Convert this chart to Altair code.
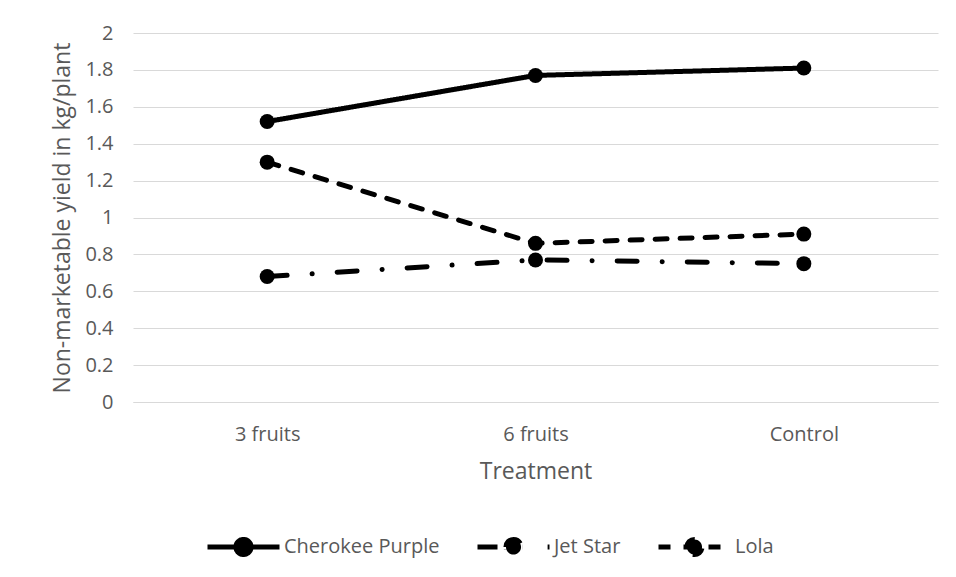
import altair as alt
import pandas as pd

treatments = ["3 fruits", "6 fruits", "Control"]
series = ["Cherokee Purple", "Jet Star", "Lola"]
cherokee = [1.52, 1.77, 1.81]
jetstar = [0.68, 0.77, 0.75]
lola = [1.30, 0.86, 0.91]

rows = []
for name, vals in zip(series, [cherokee, jetstar, lola]):
    for t, v in zip(treatments, vals):
        rows.append({"Treatment": t, "Variety": name, "Yield": v})
df = pd.DataFrame(rows)

FONT = "Open Sans"
GREY = "#595959"

x = alt.X("Treatment:N", sort=treatments,
          scale=alt.Scale(type="point", padding=0.5),
          axis=alt.Axis(title="Treatment", labelAngle=0, ticks=False,
                        labelPadding=22, titlePadding=16, grid=False,
                        domainColor="#d9d9d9", domainWidth=1))
y = alt.Y("Yield:Q", scale=alt.Scale(domain=[0, 2], nice=False),
          axis=alt.Axis(title="Non-marketable yield in kg/plant",
                        values=[0, 0.2, 0.4, 0.6, 0.8, 1, 1.2, 1.4, 1.6, 1.8, 2],
                        format=".1~f",
                        ticks=False, domain=False, labelPadding=20,
                        titlePadding=10, gridColor="#d9d9d9"))

legend_path = ("M-1,0H1M-0.21,0A0.21,0.21,0,1,1,0.21,0"
               "A0.21,0.21,0,1,1,-0.21,0Z")

dash = alt.StrokeDash(
    "Variety:N", sort=series,
    scale=alt.Scale(domain=series, range=[[1, 0], [20, 25, 0.1, 25], [12, 13]]),
    legend=alt.Legend(title=None, orient="none", direction="horizontal",
                      legendX=72, legendY=475,
                      symbolType=legend_path, symbolSize=5184,
                      symbolStrokeColor="black", symbolFillColor="black",
                      symbolStrokeWidth=5, columnPadding=27, labelOffset=2))

lines = alt.Chart(df).mark_line(color="black", strokeWidth=5, strokeCap="round").encode(
    x=x, y=y, strokeDash=dash)
points = alt.Chart(df).mark_point(filled=True, color="black", size=225, opacity=1,
                                  shape="circle").encode(x=x, y=y, detail="Variety:N")

chart = alt.layer(lines, points).properties(
    width=805, height=369,
    autosize=alt.AutoSizeParams(type="none"),
    padding={"left": 125, "top": 25, "right": 10, "bottom": 166},
).configure_view(stroke=None).configure_axis(
    labelFont=FONT, titleFont=FONT, labelColor=GREY, titleColor=GREY,
    labelFontSize=20, titleFontSize=23, titleFontWeight="normal"
).configure_legend(labelFont=FONT, labelColor=GREY, labelFontSize=20)

chart.save("out.html", embed_options={"renderer": "svg", "actions": False})
